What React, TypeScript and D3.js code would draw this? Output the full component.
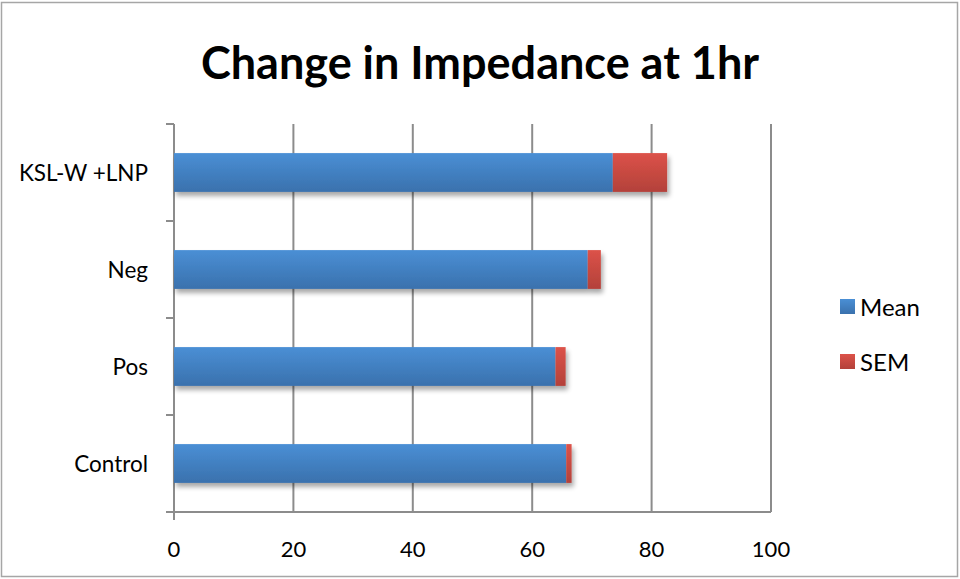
import React from "react";
import * as d3 from "d3";

const categories = ["KSL-W +LNP", "Neg", "Pos", "Control"];
const meanValues = [73.5, 69.3, 63.9, 65.7];
const semValues = [9.1, 2.2, 1.7, 0.9];
const xTicks = [0, 20, 40, 60, 80, 100];
const seriesNames = ["Mean", "SEM"];

const W = 960;
const H = 579;
const margin = { left: 174, right: 189, top: 124, bottom: 67 };
const font = "Lato, 'Open Sans', sans-serif";

export default function App() {
  const x = d3.scaleLinear().domain([0, 100]).range([margin.left, W - margin.right]);
  const y = d3
    .scaleBand()
    .domain(categories)
    .range([margin.top, H - margin.bottom])
    .paddingInner(0.6)
    .paddingOuter(0.3);
  const bandEdges = d3.range(categories.length + 1).map(
    (i) => margin.top + (i * (H - margin.bottom - margin.top)) / categories.length
  );

  return (
    <svg width={W} height={H} style={{ position: "absolute", left: 0, top: 0 }}>
      <defs>
        <linearGradient id="gBlue" x1="0" y1="0" x2="0" y2="1">
          <stop offset="0" stopColor="#4a8fd5" />
          <stop offset="1" stopColor="#3a71ad" />
        </linearGradient>
        <linearGradient id="gRed" x1="0" y1="0" x2="0" y2="1">
          <stop offset="0" stopColor="#dc5249" />
          <stop offset="1" stopColor="#b3413a" />
        </linearGradient>
        <filter id="shadow" x="-5%" y="-20%" width="115%" height="160%">
          <feGaussianBlur in="SourceAlpha" stdDeviation="2.5" />
          <feOffset dx="2" dy="4" result="b" />
          <feComponentTransfer>
            <feFuncA type="linear" slope="0.35" />
          </feComponentTransfer>
          <feMerge>
            <feMergeNode />
            <feMergeNode in="SourceGraphic" />
          </feMerge>
        </filter>
      </defs>
      <rect x={1.5} y={2.5} width={956} height={574} fill="#fff" stroke="#a6a6a6" strokeWidth={1.5} />
      <text x={480} y={79} textAnchor="middle" fontFamily={font} fontWeight="bold" fontSize={45} fill="#000">
        Change in Impedance at 1hr
      </text>

      {xTicks.slice(1).map((t) => (
        <line key={t} x1={x(t)} x2={x(t)} y1={margin.top} y2={H - margin.bottom} stroke="#8c8c8c" strokeWidth={2} />
      ))}
      <line x1={x(0)} x2={x(0)} y1={margin.top} y2={H - margin.bottom + 8} stroke="#8c8c8c" strokeWidth={2} />
      <line x1={x(0)} x2={x(100)} y1={H - margin.bottom} y2={H - margin.bottom} stroke="#8c8c8c" strokeWidth={2} />
      {bandEdges.map((e, i) => (
        <line key={i} x1={x(0) - 8} x2={x(0)} y1={e} y2={e} stroke="#8c8c8c" strokeWidth={2} />
      ))}
      {xTicks.map((t) => (
        <text key={t} x={x(t)} y={557} textAnchor="middle" fontFamily={font} fontSize={22} fill="#000">
          {t}
        </text>
      ))}

      {categories.map((c, i) => {
        const y0 = y(c)!;
        const bh = y.bandwidth();
        return (
          <g key={c} filter="url(#shadow)">
            <rect x={x(0)} y={y0} width={x(meanValues[i]) - x(0)} height={bh} fill="url(#gBlue)" />
            <rect
              x={x(meanValues[i])}
              y={y0}
              width={x(meanValues[i] + semValues[i]) - x(meanValues[i])}
              height={bh}
              fill="url(#gRed)"
            />
          </g>
        );
      })}
      {categories.map((c) => (
        <text
          key={c}
          x={148}
          y={y(c)! + y.bandwidth() / 2 + 8}
          textAnchor="end"
          fontFamily={font}
          fontSize={22.5}
          fill="#000"
        >
          {c}
        </text>
      ))}

      {seriesNames.map((s, i) => (
        <g key={s} transform={`translate(840, ${299 + i * 55})`}>
          <rect width={15} height={15} fill={i === 0 ? "url(#gBlue)" : "url(#gRed)"} />
          <text x={20} y={17} fontFamily={font} fontSize={24} fill="#000">
            {s}
          </text>
        </g>
      ))}
    </svg>
  );
}
